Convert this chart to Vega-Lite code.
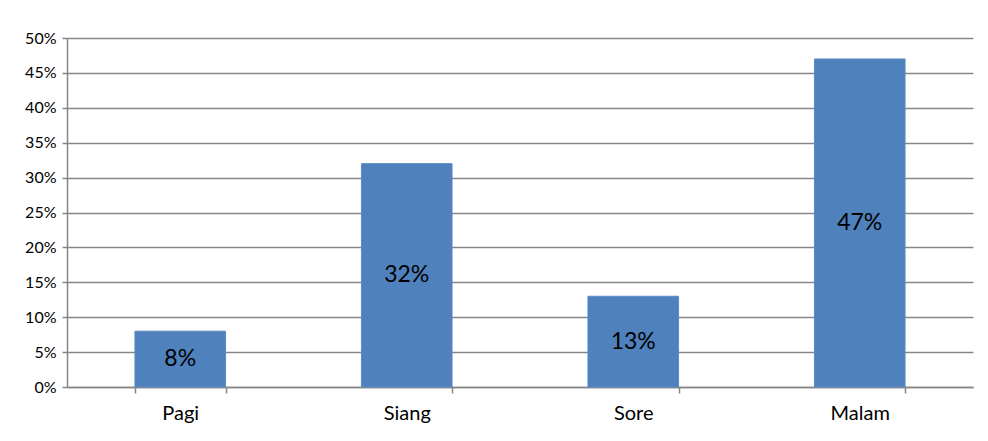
{
  "$schema": "https://vega.github.io/schema/vega-lite/v6.json",
  "width": 906,
  "height": 349,
  "autosize": {"type": "none"},
  "padding": {"left": 67, "top": 38, "right": 15, "bottom": 54},
  "background": "white",
  "config": {
    "view": {"stroke": null},
    "font": "Lato",
    "axisY": {
      "labelOverlap": false,
      "labelFlush": false,
      "labelFontSize": 16,
      "labelColor": "#000000",
      "labelPadding": 6,
      "tickSize": 5,
      "tickColor": "#868686",
      "tickWidth": 1.5,
      "domainColor": "#868686",
      "domainWidth": 1.5,
      "grid": true,
      "gridColor": "#868686",
      "gridWidth": 1.5
    }
  },
  "data": {
    "values": [
      {"waktu": "Pagi", "persen": 0.08},
      {"waktu": "Siang", "persen": 0.32},
      {"waktu": "Sore", "persen": 0.13},
      {"waktu": "Malam", "persen": 0.47}
    ]
  },
  "transform": [{"calculate": "datum.persen / 2", "as": "mid"}],
  "encoding": {
    "x": {
      "field": "waktu",
      "type": "nominal",
      "sort": null,
      "scale": {"paddingInner": 0.6, "paddingOuter": 0.3},
      "axis": {
        "title": null,
        "labelAngle": 0,
        "labelFontSize": 20,
        "labelColor": "#000000",
        "labelPadding": 10,
        "tickBand": "extent",
        "tickSize": 6,
        "tickColor": "#868686",
        "domainColor": "#868686",
        "domainWidth": 1.5,
        "tickWidth": 1.5,
        "grid": false
      }
    }
  },
  "layer": [
    {
      "mark": {"type": "bar", "color": "#4F81BD", "stroke": "#5B8BC6", "strokeWidth": 1},
      "encoding": {
        "y": {
          "field": "persen",
          "type": "quantitative",
          "scale": {"domain": [0, 0.5], "nice": false},
          "axis": {"title": null, "format": ".0%", "labelFontSize": 16, "values": [0, 0.05, 0.1, 0.15, 0.2, 0.25, 0.3, 0.35, 0.4, 0.45, 0.5]}
        }
      }
    },
    {
      "mark": {"type": "text", "fontSize": 23, "color": "#000000", "baseline": "middle"},
      "encoding": {
        "y": {"field": "mid", "type": "quantitative", "axis": {"title": null, "format": ".0%", "labelFontSize": 16, "values": [0, 0.05, 0.1, 0.15, 0.2, 0.25, 0.3, 0.35, 0.4, 0.45, 0.5]}},
        "text": {"field": "persen", "type": "quantitative", "format": ".0%"}
      }
    }
  ]
}
